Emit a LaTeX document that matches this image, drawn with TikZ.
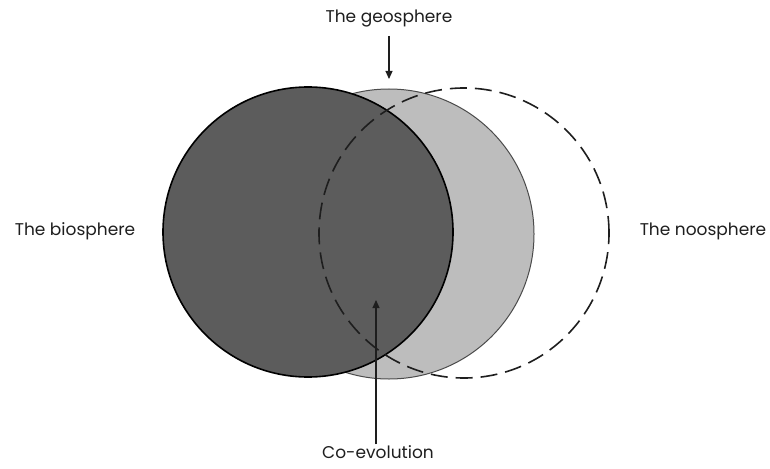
\documentclass[tikz,border=0pt]{standalone}
\usepackage{fontspec}
\setmainfont{Poppins}
\usepackage{xcolor}
\definecolor{bioDark}{HTML}{5C5C5C}
\definecolor{geoLight}{HTML}{BDBDBD}
\definecolor{inkGrey}{HTML}{1E1E1E}
\usetikzlibrary{arrows.meta, positioning}

\begin{document}
\begin{tikzpicture}[x=1pt, y=-1pt,
  sphere/.style={circle, minimum size=290pt, inner sep=0pt},
  lbl/.style={font=\fontsize{17}{20}\selectfont, text=inkGrey, inner sep=1pt},
  pointer/.style={-{Triangle[length=8pt, width=7pt]}, line width=1.1pt, inkGrey}
]
  \useasboundingbox (0,0) rectangle (770,468);

  \node[sphere, fill=geoLight, draw=inkGrey!80, line width=1pt] (geo) at (389,234) {};
  \node[sphere, fill=bioDark, draw=black, line width=1.6pt] (bio) at (308,232) {};
  \node[sphere, draw=inkGrey, line width=1.6pt, dash pattern=on 17pt off 8pt] (noo) at (464,233) {};

  \node[lbl] (geolbl) at (389,19) {The geosphere};
  \node[lbl] (biolbl) at (75,231) {The biosphere};
  \node[lbl] (noolbl) at (703,231) {The noosphere};
  \node[lbl] (colbl) at (378,452) {Co-evolution};

  \coordinate (geotip) at (389,79);
  \coordinate (cotip) at (376,300);

  \draw[pointer] (geolbl.south |- 0,36) -- (geotip);
  \draw[pointer] (colbl.north -| cotip) -- (cotip);
\end{tikzpicture}
\end{document}
